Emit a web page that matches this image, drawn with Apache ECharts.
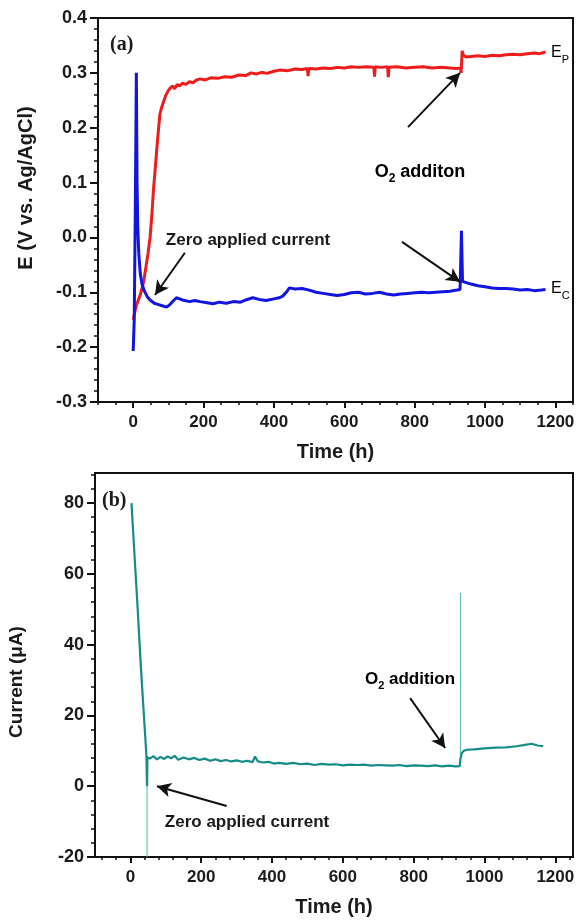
<!DOCTYPE html>
<html><head><meta charset="utf-8">
<script src="https://cdn.jsdelivr.net/npm/echarts@6/dist/echarts.min.js"></script>
<style>html,body{margin:0;padding:0;background:#fff}#c{width:579px;height:920px}</style>
</head><body><div id="c"></div>
<script>
// ---------- data ----------
const timeTickLabels = [0, 200, 400, 600, 800, 1000, 1200];
const eTickLabels = [-0.3, -0.2, -0.1, 0.0, 0.1, 0.2, 0.3, 0.4];
const currentTickLabels = [-20, 0, 20, 40, 60, 80];

// Panel (a): potential of the positive electrode, E_P  [time (h), E (V)]
const ePositive = [[0,-0.15],[5,-0.135],[10,-0.122],[20,-0.105],[30,-0.08],[42,-0.03],[48,0.0],[53,0.04],[58,0.09],[62,0.12],[67,0.16],[71,0.19],[76,0.225],[80,0.235],[85,0.245],[92,0.258],[100,0.268],[105,0.272],[112,0.276],[118,0.271],[125,0.279],[132,0.276],[140,0.281],[150,0.279],[160,0.284],[170,0.282],[180,0.287],[190,0.289],[205,0.287],[220,0.291],[240,0.29],[260,0.293],[280,0.292],[300,0.296],[320,0.295],[335,0.3],[350,0.298],[365,0.301],[380,0.299],[400,0.303],[416,0.305],[440,0.304],[460,0.307],[480,0.306],[495,0.308],[497,0.294],[499,0.308],[520,0.307],[540,0.309],[560,0.308],[580,0.31],[600,0.309],[620,0.311],[640,0.31],[660,0.311],[684,0.31],[686,0.293],[688,0.311],[705,0.31],[723,0.311],[725,0.292],[727,0.31],[750,0.311],[775,0.309],[800,0.31],[825,0.311],[850,0.309],[875,0.31],[900,0.309],[920,0.308],[930,0.309],[932,0.3],[934,0.302],[935,0.34],[938,0.333],[945,0.329],[960,0.33],[980,0.331],[1000,0.33],[1020,0.332],[1040,0.331],[1060,0.333],[1080,0.334],[1100,0.333],[1120,0.335],[1140,0.336],[1155,0.335],[1172,0.338]];

// Panel (a): potential of the counter electrode, E_C  [time (h), E (V)]
const eCounter = [[0,-0.207],[3,-0.15],[6,0.05],[9,0.3],[11,0.1],[13,0.02],[16,-0.03],[20,-0.065],[25,-0.085],[32,-0.098],[40,-0.108],[48,-0.114],[60,-0.12],[70,-0.122],[80,-0.124],[95,-0.127],[105,-0.122],[115,-0.115],[123,-0.11],[140,-0.114],[160,-0.117],[175,-0.115],[190,-0.117],[210,-0.119],[227,-0.121],[245,-0.118],[265,-0.12],[285,-0.117],[305,-0.118],[320,-0.114],[340,-0.11],[358,-0.113],[378,-0.115],[400,-0.112],[415,-0.11],[425,-0.107],[435,-0.1],[444,-0.092],[460,-0.094],[480,-0.093],[500,-0.096],[520,-0.1],[540,-0.102],[560,-0.104],[580,-0.106],[600,-0.104],[620,-0.101],[640,-0.1],[660,-0.103],[680,-0.102],[700,-0.1],[720,-0.103],[740,-0.105],[760,-0.103],[780,-0.102],[800,-0.101],[820,-0.1],[840,-0.101],[860,-0.1],[880,-0.099],[900,-0.098],[920,-0.096],[929,-0.095],[933,0.012],[936,-0.08],[945,-0.082],[960,-0.085],[980,-0.088],[1000,-0.09],[1020,-0.092],[1040,-0.093],[1060,-0.093],[1080,-0.094],[1100,-0.096],[1120,-0.095],[1140,-0.097],[1160,-0.096],[1172,-0.095]];

// Panel (b): cell current  [time (h), current (uA)]
const current = [[3,80],[10,68],[20,51],[30,33],[40,17],[45,9],[47,0],[48,8.2],[55,7.8],[65,8.5],[75,7.6],[85,8.3],[95,7.7],[105,8.4],[115,7.9],[125,8.6],[135,7.5],[150,8.1],[165,7.6],[180,8.0],[195,7.4],[210,7.8],[225,7.2],[240,7.6],[255,7.1],[270,7.4],[285,7.0],[300,7.3],[315,6.9],[330,7.2],[345,6.8],[352,8.4],[360,7.0],[375,6.7],[390,6.9],[405,6.4],[420,6.6],[440,6.3],[460,6.6],[480,6.2],[500,6.4],[520,6.0],[540,6.3],[560,6.1],[580,6.2],[600,5.9],[620,6.1],[640,6.0],[660,6.1],[680,5.8],[700,6.0],[720,5.9],[740,5.8],[760,6.0],[780,5.7],[800,5.9],[820,5.8],[840,5.7],[860,5.9],[880,5.6],[900,5.8],[918,5.6],[930,5.7],[932,7.6],[936,9.4],[942,10.0],[950,10.3],[970,10.4],[1000,10.7],[1030,10.9],[1060,11.0],[1090,11.3],[1110,11.6],[1133,12.0],[1150,11.5],[1166,11.3]];
// brief transients drawn as thin lines
const currentDip = [[47,0],[47,-20]];
const currentSpike = [[932,7.6],[932,54.6]];

// annotation arrows [tail, head] in data coordinates
const arrowsA = [[[781,0.201],[929,0.300]],[[764,-0.008],[929,-0.081]],[[147,-0.028],[62,-0.105]]];
const arrowsB = [[[790,24.9],[889,10.8]],[[272,-5.6],[75,0.0]]];

// ---------- chart ----------
const FONT = '"Liberation Sans", Arial, sans-serif';
const TXT = '#1a1a1a';
const chart = echarts.init(document.getElementById('c'), null, {renderer: 'canvas'});

function minorVals(step, lo, hi, majors) {
  const out = [];
  for (let v = lo; v <= hi + 1e-9; v += step) {
    const r = Math.round(v * 1000) / 1000;
    if (!majors.some(m => Math.abs(m - r) < 1e-9)) out.push(r);
  }
  return out;
}

function mainX(gridIndex) {
  return {
    type: 'value', gridIndex, min: -100, max: 1250, position: 'bottom',
    name: 'Time (h)', nameLocation: 'middle', nameGap: 40,
    nameTextStyle: {fontFamily: FONT, fontWeight: 'bold', fontSize: 20, color: TXT},
    axisLine: {show: true, onZero: false, lineStyle: {color: '#111', width: 2}},
    axisTick: {show: true, customValues: timeTickLabels, length: 6, lineStyle: {color: '#111', width: 2}},
    axisLabel: {customValues: timeTickLabels, margin: 12, fontFamily: FONT, fontWeight: 'bold', fontSize: 17, color: TXT, formatter: v => String(v)},
    splitLine: {show: false}
  };
}
function minorX(gridIndex, step, start) {
  return {
    type: 'value', gridIndex, min: -100, max: 1250, position: 'bottom',
    axisLine: {show: false, onZero: false},
    axisTick: {show: true, customValues: minorVals(step, start, 1250, timeTickLabels), length: 3, lineStyle: {color: '#111', width: 1.5}},
    axisLabel: {show: false}, splitLine: {show: false}
  };
}
function arrowLine(pairs) {
  return {
    silent: true, symbol: ['none', 'arrow'], symbolSize: [11, 14],
    lineStyle: {color: '#111', width: 2, type: 'solid'},
    itemStyle: {color: '#111'},
    label: {show: false}, emphasis: {disabled: true},
    data: pairs.map(p => [{coord: p[0]}, {coord: p[1]}])
  };
}

const option = {
  animation: false,
  backgroundColor: '#fff',
  grid: [
    {left: 98, top: 18, width: 475, height: 384, show: true, borderColor: '#111', borderWidth: 2, backgroundColor: 'transparent'},
    {left: 95, top: 473, width: 478, height: 384, show: true, borderColor: '#111', borderWidth: 2, backgroundColor: 'transparent'}
  ],
  xAxis: [mainX(0), minorX(0, 50, -100), mainX(1), minorX(1, 40, -80)],
  yAxis: [
    {
      type: 'value', gridIndex: 0, min: -0.3, max: 0.4, interval: 0.1, position: 'left',
      axisLine: {show: true, onZero: false, lineStyle: {color: '#111', width: 2}},
      axisTick: {show: true, length: 8, lineStyle: {color: '#111', width: 2}},
      minorTick: {show: true, splitNumber: 5, length: 4, lineStyle: {color: '#111', width: 1.5}},
      axisLabel: {margin: 11, fontFamily: FONT, fontWeight: 'bold', fontSize: 18, color: TXT, formatter: v => v.toFixed(1)},
      splitLine: {show: false}, minorSplitLine: {show: false}
    },
    {
      type: 'value', gridIndex: 1, min: -20, max: 88.5, position: 'left',
      axisLine: {show: true, onZero: false, lineStyle: {color: '#111', width: 2}},
      axisTick: {show: true, customValues: currentTickLabels, length: 8, lineStyle: {color: '#111', width: 2}},
      axisLabel: {customValues: currentTickLabels, margin: 11, fontFamily: FONT, fontWeight: 'bold', fontSize: 18, color: TXT},
      splitLine: {show: false}
    },
    {
      type: 'value', gridIndex: 1, min: -20, max: 88.5, position: 'left',
      axisLine: {show: false, onZero: false},
      axisTick: {show: true, customValues: minorVals(4, -20, 88, currentTickLabels), length: 4, lineStyle: {color: '#111', width: 1.5}},
      axisLabel: {show: false}, splitLine: {show: false}
    }
  ],
  series: [
    {type: 'line', name: 'E_P', xAxisIndex: 0, yAxisIndex: 0, data: ePositive, showSymbol: false, symbol: 'none',
     lineStyle: {color: '#ee1c1c', width: 3}, z: 3, markLine: arrowLine(arrowsA.slice(0, 1))},
    {type: 'line', name: 'E_C', xAxisIndex: 0, yAxisIndex: 0, data: eCounter, showSymbol: false, symbol: 'none',
     lineStyle: {color: '#1414e0', width: 3}, z: 4, markLine: arrowLine(arrowsA.slice(1))},
    {type: 'line', name: 'Current', xAxisIndex: 2, yAxisIndex: 1, data: current, showSymbol: false, symbol: 'none',
     lineStyle: {color: '#168c86', width: 2.2}, z: 4, markLine: arrowLine(arrowsB)},
    {type: 'line', name: 'dip', xAxisIndex: 2, yAxisIndex: 1, data: currentDip, showSymbol: false, symbol: 'none',
     lineStyle: {color: '#4fb3ad', width: 1}, z: 3},
    {type: 'line', name: 'spike', xAxisIndex: 2, yAxisIndex: 1, data: currentSpike, showSymbol: false, symbol: 'none',
     lineStyle: {color: '#4fb3ad', width: 1}, z: 3}
  ],
  graphic: [
    {type: 'text', x: 26, y: 188, rotation: Math.PI / 2, style: {text: 'E (V vs. Ag/AgCl)', fontFamily: FONT, fontWeight: 'bold', fontSize: 20, fill: TXT, align: 'center', verticalAlign: 'middle'}},
    {type: 'text', x: 17, y: 682, rotation: Math.PI / 2, style: {text: 'Current (\u03bcA)', fontFamily: FONT, fontWeight: 'bold', fontSize: 19, fill: TXT, align: 'center', verticalAlign: 'middle'}},
    {type: 'text', x: 110, y: 45, style: {text: '(a)', fontFamily: '"Liberation Serif", "Times New Roman", serif', fontWeight: 'bold', fontSize: 20, fill: TXT, align: 'left', verticalAlign: 'middle'}},
    {type: 'text', x: 102, y: 501, style: {text: '(b)', fontFamily: '"Liberation Serif", "Times New Roman", serif', fontWeight: 'bold', fontSize: 20, fill: TXT, align: 'left', verticalAlign: 'middle'}},
    {type: 'text', x: 248, y: 240, style: {text: 'Zero applied current', fontFamily: FONT, fontWeight: 'bold', fontSize: 17, fill: TXT, align: 'center', verticalAlign: 'middle'}},
    {type: 'text', x: 247, y: 822, style: {text: 'Zero applied current', fontFamily: FONT, fontWeight: 'bold', fontSize: 17, fill: TXT, align: 'center', verticalAlign: 'middle'}},
    {type: 'text', x: 420, y: 172, style: {text: '{a|O}{s|2}{a| additon}', align: 'center', verticalAlign: 'middle',
      rich: {a: {fontFamily: FONT, fontWeight: 'bold', fontSize: 18, color: TXT, lineHeight: 26}, s: {fontFamily: FONT, fontWeight: 'bold', fontSize: 12, color: TXT, verticalAlign: 'bottom', lineHeight: 26}}}},
    {type: 'text', x: 410, y: 679, style: {text: '{a|O}{s|2}{a| addition}', align: 'center', verticalAlign: 'middle',
      rich: {a: {fontFamily: FONT, fontWeight: 'bold', fontSize: 17, color: TXT, lineHeight: 24}, s: {fontFamily: FONT, fontWeight: 'bold', fontSize: 11, color: TXT, verticalAlign: 'bottom', lineHeight: 24}}}},
    {type: 'text', x: 551, y: 53, style: {text: '{e|E}{s|P}', align: 'left', verticalAlign: 'middle',
      rich: {e: {fontFamily: FONT, fontSize: 16, color: '#ee1c1c', lineHeight: 24}, s: {fontFamily: FONT, fontSize: 11, color: '#ee1c1c', verticalAlign: 'bottom', lineHeight: 24}}}},
    {type: 'text', x: 551, y: 289, style: {text: '{e|E}{s|C}', align: 'left', verticalAlign: 'middle',
      rich: {e: {fontFamily: FONT, fontSize: 16, color: '#1414e0', lineHeight: 24}, s: {fontFamily: FONT, fontSize: 11, color: '#1414e0', verticalAlign: 'bottom', lineHeight: 24}}}}
  ]
};
chart.setOption(option);
</script></body></html>
